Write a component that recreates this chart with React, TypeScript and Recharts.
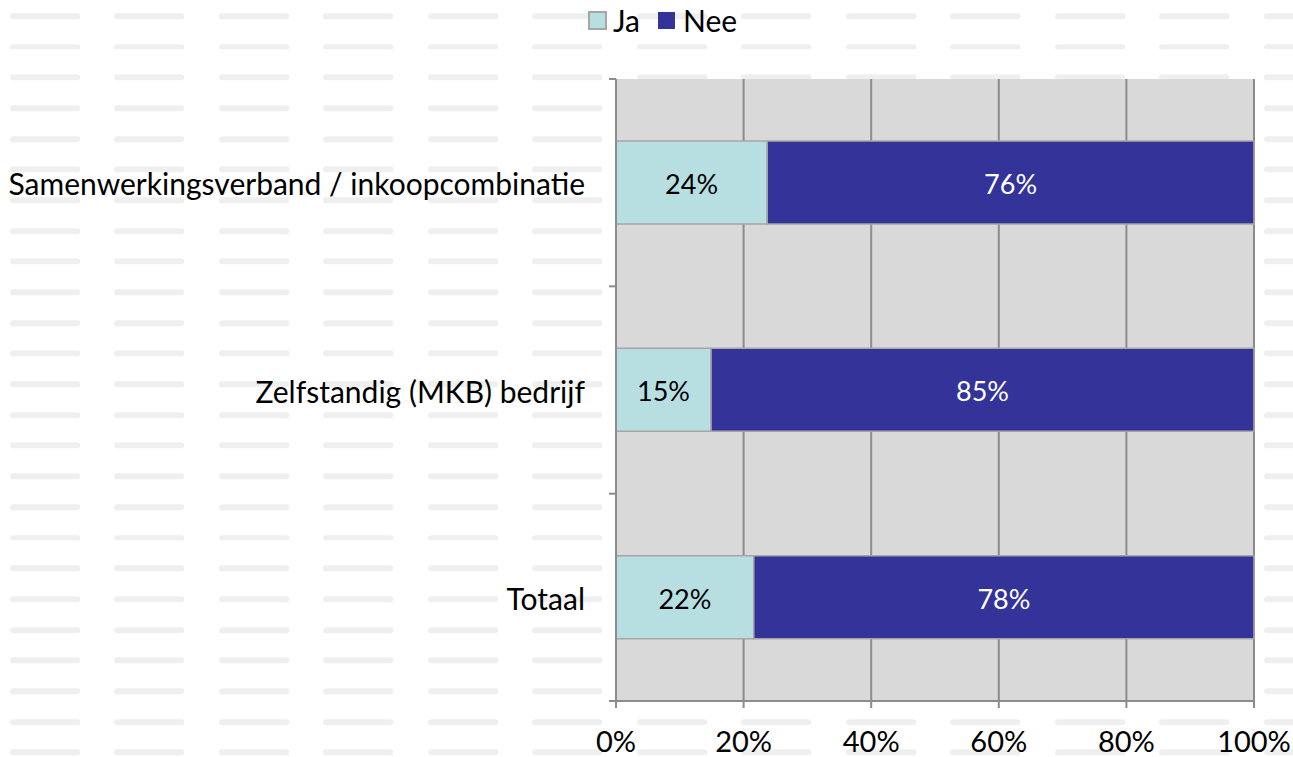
import { BarChart, Bar, XAxis, YAxis, CartesianGrid, LabelList, Legend } from 'recharts';

const categories = ['Samenwerkingsverband / inkoopcombinatie', 'Zelfstandig (MKB) bedrijf', 'Totaal'];
const ja = [23.7, 14.9, 21.6];
const nee = [76.3, 85.1, 78.4];
const xTicks = [0, 20, 40, 60, 80, 100];

const data = categories.map((name, i) => ({ name, ja: ja[i], nee: nee[i] }));

const W = 1293;
const H = 757;
const MARGIN = { top: 39, right: 39, bottom: 0, left: 0 };
const LEGEND_H = 40;
const X_AXIS_H = 56;
const PLOT_TOP = MARGIN.top + LEGEND_H;
const BAND = (H - PLOT_TOP - X_AXIS_H) / categories.length;
const FONT = 'Lato, "Open Sans", sans-serif';
const GRID = '#8c8c8c';

const pattern =
  "url(\"data:image/svg+xml;utf8,<svg xmlns='http://www.w3.org/2000/svg' width='104.5' height='30.7'><rect x='10' y='13' width='70' height='6' rx='3' fill='%23efefef'/></svg>\")";

const YTick = (props: any) => {
  const { x, y, payload, index } = props;
  const ax = x + 31;
  return (
    <g>
      <text x={x} y={y + 2} dy="0.36em" textAnchor="end" fill="#000" fontSize={30} fontFamily={FONT}>
        {payload.value}
      </text>
      <line x1={ax - 7} x2={ax} y1={y - BAND / 2} y2={y - BAND / 2} stroke={GRID} strokeWidth={2} />
      {index === categories.length - 1 && (
        <line x1={ax - 7} x2={ax} y1={y + BAND / 2} y2={y + BAND / 2} stroke={GRID} strokeWidth={2} />
      )}
    </g>
  );
};

const renderLegend = () => (
  <div style={{ display: 'flex', alignItems: 'center', height: LEGEND_H, fontFamily: FONT, fontSize: 30, color: '#000' }}>
    <span style={{ width: 15, height: 15, background: '#b7dfe2', border: '2px solid #a6a6a6', marginRight: 6 }} />
    <span style={{ marginRight: 18 }}>Ja</span>
    <span style={{ width: 17, height: 17, background: '#333399', marginRight: 8 }} />
    <span>Nee</span>
  </div>
);

const App = () => {
  return (
    <div style={{ position: 'absolute', left: 0, top: 0, width: W, height: H, backgroundColor: '#fff', backgroundImage: pattern }}>
      <BarChart width={W} height={H} data={data} layout="vertical" margin={MARGIN} barSize={83}>
        <Legend verticalAlign="top" content={renderLegend} wrapperStyle={{ top: 0, left: 588, width: 'auto' }} />
        <CartesianGrid horizontal={false} fill="#d9d9d9" stroke={GRID} strokeWidth={2} />
        <XAxis
          type="number"
          domain={[0, 100]}
          ticks={xTicks}
          tickFormatter={(v: number) => `${v}%`}
          height={X_AXIS_H}
          tickSize={7}
          tickMargin={23}
          stroke={GRID}
          strokeWidth={2}
          tick={{ fill: '#000', fontSize: 29, fontFamily: FONT }}
          interval={0}
        />
        <YAxis
          type="category"
          dataKey="name"
          width={616}
          tickLine={false}
          tickSize={0}
          tickMargin={31}
          stroke={GRID}
          strokeWidth={2}
          tick={<YTick />}
          interval={0}
        />
        <Bar dataKey="ja" stackId="a" fill="#b7dfe2" stroke="#a6a6a6" strokeWidth={1.5} isAnimationActive={false}>
          <LabelList dataKey="ja" position="center" offset={0} dy={2} formatter={(v: any) => `${Math.round(v)}%`} fill="#000" fontSize={27} fontFamily={FONT} />
        </Bar>
        <Bar dataKey="nee" stackId="a" fill="#333399" stroke="#a6a6a6" strokeWidth={1.5} isAnimationActive={false}>
          <LabelList dataKey="nee" position="center" offset={0} dy={2} formatter={(v: any) => `${Math.round(v)}%`} fill="#fff" fontSize={27} fontFamily={FONT} />
        </Bar>
      </BarChart>
    </div>
  );
};

export default App;
